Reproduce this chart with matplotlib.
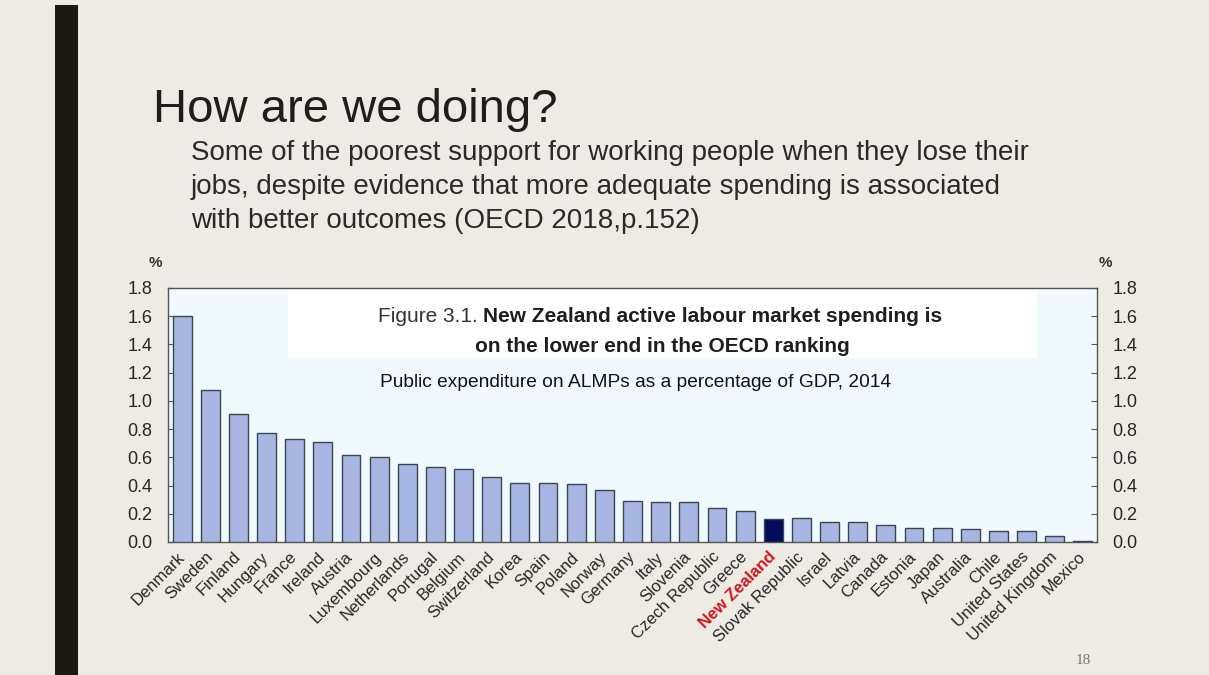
import matplotlib
matplotlib.use("Agg")
import matplotlib.pyplot as plt
from matplotlib.patches import Rectangle
import numpy as np

countries = ["Denmark", "Sweden", "Finland", "Hungary", "France", "Ireland", "Austria",
             "Luxembourg", "Netherlands", "Portugal", "Belgium", "Switzerland", "Korea",
             "Spain", "Poland", "Norway", "Germany", "Italy", "Slovenia", "Czech Republic",
             "Greece", "New Zealand", "Slovak Republic", "Israel", "Latvia", "Canada",
             "Estonia", "Japan", "Australia", "Chile", "United States", "United Kingdom",
             "Mexico"]
spending = [1.60, 1.08, 0.91, 0.77, 0.73, 0.71, 0.62, 0.60, 0.55, 0.53, 0.52, 0.46,
            0.42, 0.42, 0.41, 0.37, 0.29, 0.28, 0.28, 0.24, 0.22, 0.16, 0.17, 0.14,
            0.14, 0.12, 0.10, 0.10, 0.09, 0.08, 0.08, 0.04, 0.01]
highlight = "New Zealand"
y_ticks = [0.0, 0.2, 0.4, 0.6, 0.8, 1.0, 1.2, 1.4, 1.6, 1.8]

W, H = 1209, 675
BG = "#EEEBE4"
BAR = "#A8B6E4"
BAR_EDGE = "#3C4552"
NAVY = "#020C5C"
PLOT_BG = "#F0FAFE"
TXT = "#262626"

plt.rcParams["font.family"] = ["Liberation Sans", "DejaVu Sans"]

fig = plt.figure(figsize=(W / 100, H / 100), dpi=100, facecolor=BG)


def fx(px):
    return px / W


def fy(py):
    return 1 - py / H


# Dark vertical bar on the slide
fig.patches.append(Rectangle((fx(55), 0), fx(78) - fx(55), fy(5), transform=fig.transFigure,
                             facecolor="#1A1A10", edgecolor="none", zorder=0))

# Slide heading and text
fig.text(fx(153), fy(122), "How are we doing?", fontsize=34, color="#1E1E1E",
         va="baseline", ha="left")
sub_lines = ["Some of the poorest support for working people when they lose their",
             "jobs, despite evidence that more adequate spending is associated",
             "with better outcomes (OECD 2018,p.152)"]
for line, base in zip(sub_lines, [160, 194, 228]):
    fig.text(fx(191), fy(base), line, fontsize=20, color="#2A2A2A",
             va="baseline", ha="left")

# Chart axes
ax = fig.add_axes([fx(168), fy(542), fx(1097) - fx(168), fy(288) - fy(542)])
ax.set_facecolor(PLOT_BG)
x = np.arange(len(countries))
colors = [NAVY if c == highlight else BAR for c in countries]
ax.bar(x, spending, width=0.67, color=colors, edgecolor=BAR_EDGE, linewidth=1.0, zorder=3)
ax.set_xlim(-0.5, len(countries) - 0.5)
ax.set_ylim(0, 1.8)

ax.set_yticks(y_ticks)
ax.set_yticklabels([f"{v:.1f}" for v in y_ticks])
ax.tick_params(axis="y", direction="in", length=4, width=0.8, color="#555555",
               labelsize=13, labelcolor=TXT, pad=11, right=True, labelright=True)
ax.tick_params(axis="x", length=0, pad=9)
ax.set_xticks(x)
ax.set_xticklabels(countries, rotation=45, ha="right", va="center", rotation_mode="anchor",
                   fontsize=12, color=TXT)
for lbl in ax.get_xticklabels():
    if lbl.get_text() == highlight:
        lbl.set_color("#D0141E")
        lbl.set_fontweight("bold")
for s in ax.spines.values():
    s.set_color("#555555")
    s.set_linewidth(1.0)

# White panel behind the figure title
ax.add_patch(Rectangle((fx(288), fy(358)), fx(1037) - fx(288), fy(289) - fy(358),
                       transform=fig.transFigure, facecolor="white", edgecolor="none",
                       zorder=1))

fig.canvas.draw()
renderer = fig.canvas.get_renderer()
t1 = fig.text(0, fy(317), "Figure 3.1. ", fontsize=15, color="#333333",
              va="center", ha="left")
t2 = fig.text(0, fy(317), "New Zealand active labour market spending is", fontsize=15,
              fontweight="bold", color="#1E1E1E", va="center", ha="left")
w1 = t1.get_window_extent(renderer).width
w2 = t2.get_window_extent(renderer).width
start = 660 - (w1 + w2) / 2
t1.set_x(fx(start))
t2.set_x(fx(start + w1))
fig.text(fx(662), fy(346), "on the lower end in the OECD ranking", fontsize=15,
         fontweight="bold", color="#1E1E1E", va="center", ha="center")
fig.text(fx(636), fy(383), "Public expenditure on ALMPs as a percentage of GDP, 2014",
         fontsize=13.75, color="#111111", va="center", ha="center")

# Unit labels
fig.text(fx(155), fy(263), "%", fontsize=11, fontweight="bold", color="#333333",
         va="center", ha="center")
fig.text(fx(1105), fy(263), "%", fontsize=11, fontweight="bold", color="#333333",
         va="center", ha="center")

# Slide number
fig.text(fx(1083), fy(660), "18", fontsize=11, family=["Liberation Serif", "DejaVu Serif"],
         color="#777777", va="center", ha="center")

fig.savefig("out.png", dpi=100, facecolor=BG)
